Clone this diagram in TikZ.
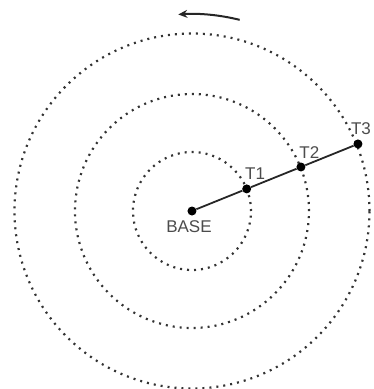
\documentclass[tikz,border=0pt]{standalone}
\usepackage{fontspec}
\setmainfont{Liberation Sans}
\usepackage{tikz}
\usetikzlibrary{arrows.meta,positioning}
\tikzset{
  orbit/.style   = {line width=2.2pt, dash pattern=on 2pt off 5pt, black!80},
  station/.style = {circle, fill=black, inner sep=0pt, minimum size=9pt},
  tlab/.style    = {font=\fontsize{17}{19}\selectfont, text=black!70, inner sep=1pt},
  boom/.style    = {line width=1.8pt, black!85},
  spin/.style    = {-{Stealth[length=3.2mm,width=2.8mm]}, line width=2pt, black!85},
}
\begin{document}
\begin{tikzpicture}[x=1pt, y=1pt]
  \useasboundingbox (-192,-178) rectangle (182,211);
  \node[station] (base) at (0,0) {};
  \draw[orbit] (base) circle (59);
  \draw[orbit] (base) circle (117);
  \draw[orbit] (base) circle (177.5);
  \node[station] (t1) at (22:59) {};
  \node[station] (t2) at (22:117.5) {};
  \node[station] (t3) at (22:179) {};
  \node[tlab, below=4pt of base, xshift=-3pt] (baselab) {BASE};
  \node[tlab, above right=5pt and -6pt of t1] (t1lab) {T1};
  \node[tlab, above right=4pt and -6pt of t2] (t2lab) {T2};
  \node[tlab, above=3pt of t3, xshift=3pt] (t3lab) {T3};
  \draw[boom] (base) -- (t1) -- (t2) -- (t3);
  \coordinate (spinstart) at (76:197);
  \draw[spin] (spinstart) arc[start angle=76, end angle=94, radius=197];
\end{tikzpicture}
\end{document}
